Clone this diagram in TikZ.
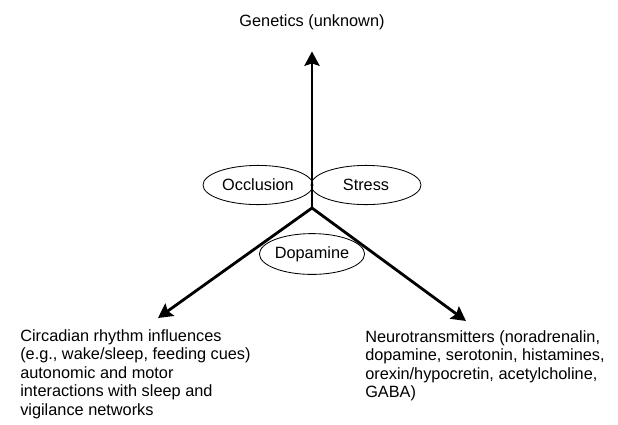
\documentclass[tikz,border=0pt]{standalone}
\usepackage{fontspec}
\setmainfont{Liberation Sans}
\usetikzlibrary{arrows.meta,positioning,shapes.geometric}

\begin{document}
\begin{tikzpicture}[
  x=0.025cm, y=-0.025cm,
  font=\fontsize{11.6}{13.2}\selectfont,
  oval/.style={draw, ellipse, line width=0.6pt, minimum width=2.75cm, minimum height=0.98cm, inner sep=0pt},
  txt/.style={align=left, anchor=north west, inner sep=0pt},
  >={Stealth[length=3.6mm, width=3.8mm, inset=0.6mm]},
  arrline/.style={->, line width=2pt},
]
\useasboundingbox (0,0) rectangle (618,424);

% ============ hub and labels ============
\coordinate (hub) at (312,208);
\node (genetics) at (312,22) {Genetics (unknown)};

\node[oval] (occl) at (258,185) {Occlusion};
\node[oval] (stress) at (366,185) {Stress};
\node[oval, minimum width=2.55cm, minimum height=1.02cm] (dopa) at (312,254) {Dopamine};

% ============ end texts ============
\node[txt] (circ) at (20,329) {Circadian rhythm influences\\(e.g., wake/sleep, feeding cues)\\autonomic and motor\\interactions with sleep and\\vigilance networks};
\node[txt] (neuro) at (365,330) {Neurotransmitters (noradrenalin,\\dopamine, serotonin, histamines,\\orexin/hypocretin, acetylcholine,\\GABA)};

\coordinate (lefttip) at (158,318);
\coordinate (righttip) at (466,321);

% ===================== ARROWS =====================
\draw[arrline] (hub) -- ([yshift=-12]genetics.south);
\draw[arrline] (hub) -- (lefttip);
\draw[arrline] (hub) -- (righttip);

\end{tikzpicture}
\end{document}
